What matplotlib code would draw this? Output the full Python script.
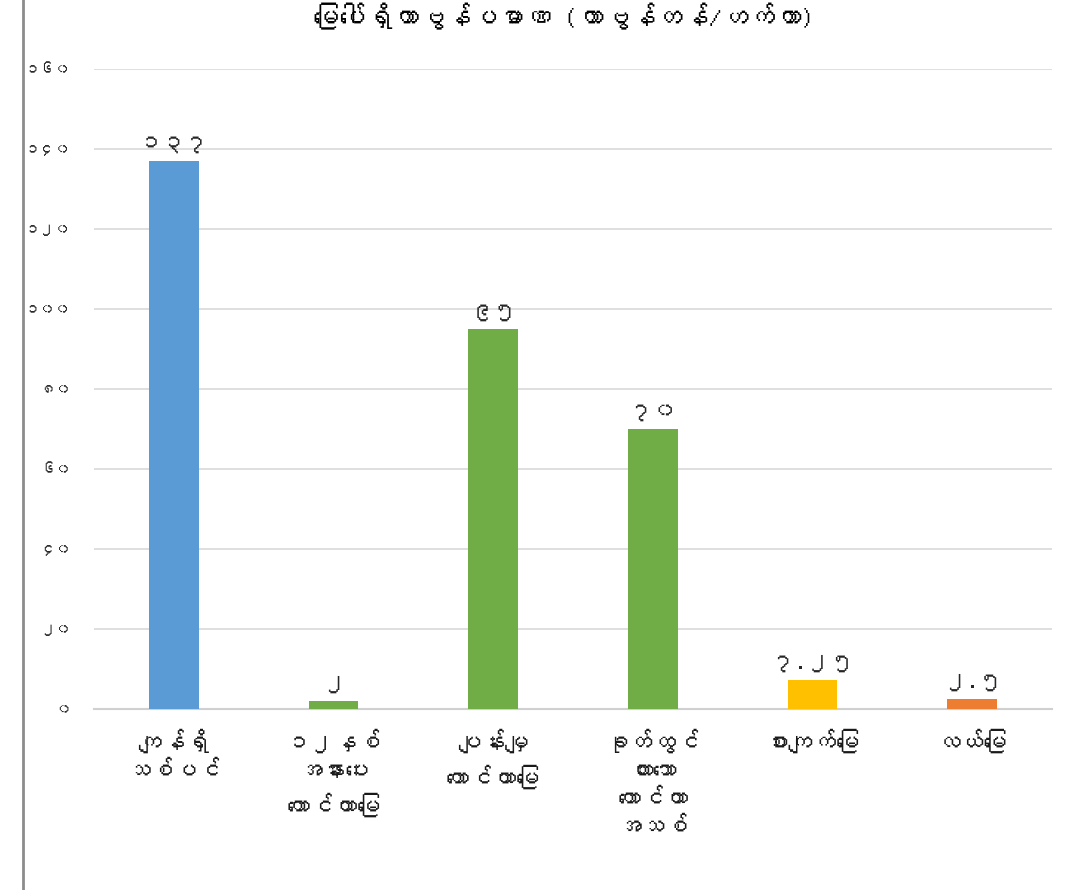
import matplotlib
matplotlib.use("Agg")
import matplotlib.pyplot as plt
from matplotlib import font_manager
from matplotlib.ft2font import FT2Font
from matplotlib.lines import Line2D

title = "မြေပေါ်ရှိကာဗွန်ပမာဏ (ကာဗွန်တန်/ဟက်တာ)"
categories = ["ကျန်ရှိ\nသစ်ပင်", "၁၂နှစ်\nအနားပေး\nတောင်ယာမြေ", "ပျန်းမျှ\nတောင်ယာမြေ",
              "ခုတ်ထွင်\nထားသော\nတောင်ယာ\nအသစ်", "စားကျက်မြေ", "လယ်မြေ"]
values = [137, 2, 95, 70, 7.25, 2.5]
colors = ["#5B9BD5", "#70AD47", "#70AD47", "#70AD47", "#FFC000", "#ED7D31"]
yticks = [0, 20, 40, 60, 80, 100, 120, 140, 160]

MY_DIGITS = "၀၁၂၃၄၅၆၇၈၉"


def to_my(v):
    s = ("%g" % v)
    return "".join(MY_DIGITS[int(c)] if c.isdigit() else c for c in s)


# look for any installed font that has Myanmar glyphs
fams = []
for f in font_manager.fontManager.ttflist:
    try:
        if 0x1000 in FT2Font(f.fname).get_charmap():
            fams.append(f.name)
    except Exception:
        pass
family = list(dict.fromkeys(fams)) + ["DejaVu Sans"]
plt.rcParams["font.family"] = family

fig = plt.figure(figsize=(10.74, 8.9), dpi=100)
ax = fig.add_axes([0.0875, 0.2034, 0.892, 0.7191])

x = list(range(len(categories)))
bars = ax.bar(x, values, width=0.31, color=colors, zorder=3)

for b, v in zip(bars, values):
    ax.annotate(to_my(v), (b.get_x() + b.get_width() / 2, v), xytext=(0, 6),
                textcoords="offset points", ha="center", va="bottom",
                fontsize=17, color="#262626")

ax.set_xlim(-0.5, len(categories) - 0.5)
ax.set_ylim(0, 160)
ax.set_yticks(yticks)
ax.set_yticklabels([to_my(t) for t in yticks], fontsize=11, color="#262626")
ax.set_xticks(x)
ax.set_xticklabels(categories, fontsize=17, color="#1a1a1a", linespacing=1.55, va="top")
ax.tick_params(axis="both", length=0)
ax.tick_params(axis="y", pad=17)
ax.tick_params(axis="x", pad=14)
ax.grid(axis="y", color="#D9D9D9", linewidth=1.2, zorder=0)
for s in ["top", "right", "left"]:
    ax.spines[s].set_visible(False)
ax.spines["bottom"].set_color("#D0D0D0")
ax.spines["bottom"].set_linewidth(1.5)

fig.text(0.525, 0.997, title, ha="center", va="top", fontsize=19, color="#000000")

# left border line
fig.add_artist(Line2D([0.021, 0.021], [0, 1], transform=fig.transFigure,
                      color="#8C8C8C", linewidth=2))

fig.savefig("out.png", dpi=100)
